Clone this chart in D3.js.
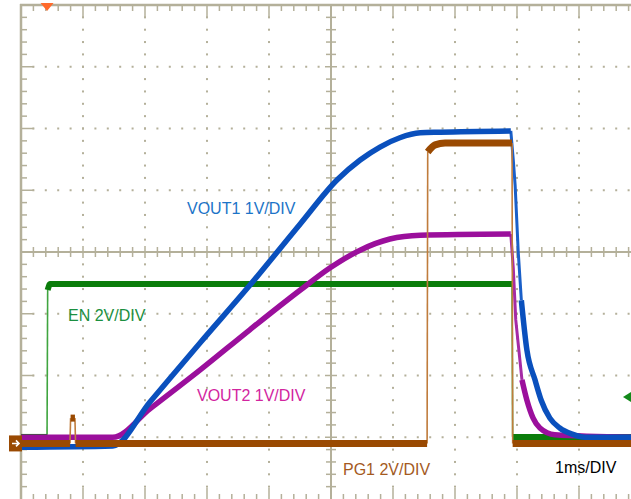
<!DOCTYPE html>
<html><head><meta charset="utf-8">
<script src="https://cdn.jsdelivr.net/npm/d3@7"></script>
<style>html,body{margin:0;padding:0;background:#fff;overflow:hidden}svg{display:block}</style>
</head><body>
<svg id="c" width="631" height="499"></svg>
<script>
// ---- data (time in ms relative to trigger, values in volts) ----
const enT   = [-0.42, 0.00, 0.01, 0.05, 7.50, 7.51, 9.42];
const enV   = [0.21, 0.21, 4.97, 5.16, 5.16, 0.21, 0.21];

const vout1T = [-0.42, 1.06, 1.66, 2.47, 3.27, 4.08, 4.68, 5.05, 5.37, 5.69, 6.02, 6.34, 7.48, 7.52, 7.55, 7.60, 7.65, 7.74, 7.87, 7.97, 8.11, 8.27, 8.47, 8.68, 9.42];
const vout1V = [-0.06, -0.04, 0.67, 1.63, 2.56, 3.55, 4.27, 4.59, 4.80, 4.95, 5.03, 5.04, 5.06, 4.59, 4.18, 3.10, 2.32, 1.51, 1.03, 0.70, 0.41, 0.25, 0.15, 0.10, 0.10];

const vout2T = [-0.42, 1.06, 1.66, 2.47, 3.27, 4.08, 4.56, 5.05, 5.53, 6.02, 7.48, 7.52, 7.56, 7.61, 7.66, 7.74, 7.84, 7.95, 8.19, 9.42];
const vout2V = [0.10, 0.10, 0.56, 1.19, 1.84, 2.48, 2.84, 3.13, 3.31, 3.37, 3.39, 2.84, 2.00, 1.51, 1.03, 0.70, 0.41, 0.25, 0.14, 0.10];

const pg1T = [-0.42, 0.37, 0.38, 0.45, 0.46, 6.13, 6.14, 6.26, 6.42, 7.50, 7.51, 9.42];
const pg1V = [0.00, 0.00, 0.82, 0.82, 0.00, 0.00, 9.44, 9.67, 9.73, 9.73, 0.00, 0.00];

const channelNames = ["EN 2V/DIV", "VOUT2 1V/DIV", "VOUT1 1V/DIV", "PG1 2V/DIV"];
const timebaseLabel = "1ms/DIV";

// ---- layout ----
const svg = d3.select("#c");
const grid = "#b4b09a";
const xDiv = d3.scaleLinear().domain([0, 10]).range([21, 641]);
const yDiv = d3.scaleLinear().domain([-4, 4]).range([499, 5]);
const xT = d3.scaleLinear().domain([-0.42, 9.58]).range([21, 641]);
const groundDiv = -3.1;

// dotted grid
const g = svg.append("g");
const dots = [];
for (let i = 1; i < 10; i++) {
  if (i === 5) continue;
  for (let k = 1; k < 40; k++) dots.push([xDiv(i), yDiv(-4 + k * 0.2)]);
}
for (let j = -3; j <= 3; j++) {
  if (j === 0) continue;
  for (let k = 1; k < 50; k++) dots.push([xDiv(k * 0.2), yDiv(j)]);
}
g.selectAll("rect.dot").data(dots).join("rect")
  .attr("x", d => d[0] - 1).attr("y", d => d[1] - 1)
  .attr("width", 2).attr("height", 2).attr("fill", grid);

// center axes
g.append("line").attr("x1", 21).attr("x2", 641).attr("y1", yDiv(0)).attr("y2", yDiv(0))
  .attr("stroke", grid).attr("stroke-width", 2);
g.append("line").attr("x1", xDiv(5)).attr("x2", xDiv(5)).attr("y1", 5).attr("y2", 499)
  .attr("stroke", grid).attr("stroke-width", 2);
// borders
g.append("line").attr("x1", 21).attr("x2", 21).attr("y1", 4).attr("y2", 499)
  .attr("stroke", grid).attr("stroke-width", 2.5);
g.append("line").attr("x1", 20).attr("x2", 641).attr("y1", 5).attr("y2", 5)
  .attr("stroke", grid).attr("stroke-width", 2.5);

const ticks = [];
for (let k = 1; k < 50; k++) {
  const x = xDiv(k * 0.2), major = k % 5 === 0;
  ticks.push([x, yDiv(0) - (major ? 6 : 5), x, yDiv(0) + (major ? 6 : 5)]);
  ticks.push([x, 5, x, major ? 17 : 11]);
  ticks.push([x, 499, x, major ? 488 : 494]);
}
for (let k = 1; k < 40; k++) {
  const y = yDiv(-4 + k * 0.2), major = k % 5 === 0;
  ticks.push([xDiv(5) - (major ? 6 : 5), y, xDiv(5) + (major ? 6 : 5), y]);
  ticks.push([21, y, major ? 34 : 27, y]);
}
g.selectAll("line.tk").data(ticks).join("line")
  .attr("x1", d => d[0]).attr("y1", d => d[1]).attr("x2", d => d[2]).attr("y2", d => d[3])
  .attr("stroke", grid).attr("stroke-width", 1.5);

// ---- traces ----
const channels = [
  {T: enT, V: enV, vdiv: 2, color: "#0b7d0b", edge: "#3fa53f", w: 6, ew: 1.6},
  {T: vout2T, V: vout2V, vdiv: 1, color: "#9b0f9c", edge: "#a52aa6", w: 5.5, ew: 3},
  {T: vout1T, V: vout1V, vdiv: 1, color: "#0a50bd", edge: "#1a5fc8", w: 5.5, ew: 3},
  {T: pg1T, V: pg1V, vdiv: 2, color: "#9a4a02", edge: "#c07c3c", w: 7, ew: 1.6}
];
const smooth = d3.line().curve(d3.curveMonotoneX);
const straight = d3.line().curve(d3.curveLinear);
channels.forEach(ch => {
  const pts = ch.T.map((t, i) => [xT(t), yDiv(groundDiv + ch.V[i] / ch.vdiv)]);
  const runs = [];
  let cur = null;
  for (let i = 0; i < pts.length - 1; i++) {
    const a = pts[i], b = pts[i + 1];
    const steep = Math.abs(b[1] - a[1]) / Math.max(Math.abs(b[0] - a[0]), 0.01) > 9;
    if (!cur || cur.steep !== steep) { cur = {steep, p: [a]}; runs.push(cur); }
    cur.p.push(b);
  }
  runs.filter(r => r.steep).forEach(r => {
    svg.append("path").attr("d", straight(r.p)).attr("fill", "none")
      .attr("stroke", ch.edge).attr("stroke-width", ch.ew).attr("stroke-linejoin", "round");
  });
  runs.filter(r => !r.steep).forEach(r => {
    svg.append("path").attr("d", smooth(r.p)).attr("fill", "none")
      .attr("stroke", ch.color).attr("stroke-width", ch.w)
      .attr("stroke-linejoin", "round").attr("stroke-linecap", "butt");
  });
});

// ---- markers ----
svg.append("path")
  .attr("d", `M${xT(0) - 6.5},3 L${xT(0) + 6.5},3 L${xT(0)},11 Z`).attr("fill", "#ff6a2c");
const gy = yDiv(groundDiv);
svg.append("rect").attr("x", 9).attr("y", gy - 8).attr("width", 13).attr("height", 16).attr("fill", "#9a4a02");
svg.append("path").attr("d", `M12,${gy} L19,${gy} M16,${gy - 3} L19,${gy} L16,${gy + 3}`)
  .attr("stroke", "#fff").attr("stroke-width", 1.6).attr("fill", "none");
const trigY = yDiv(groundDiv + 1.5 / 2);
svg.append("path").attr("d", `M623,${trigY} L631,${trigY - 5} L631,${trigY + 5} Z`).attr("fill", "#12891a");

// ---- labels ----
const labels = [
  {text: channelNames[0], x: 68, y: 321, color: "#1b8f40"},
  {text: channelNames[1], x: 197, y: 401, color: "#d2259f"},
  {text: channelNames[2], x: 187, y: 214, color: "#1c74c8"},
  {text: channelNames[3], x: 343, y: 475, color: "#a45a1e"},
  {text: timebaseLabel, x: 555, y: 473, color: "#000"}
];
svg.selectAll("text.lb").data(labels).join("text")
  .attr("x", d => d.x).attr("y", d => d.y).attr("fill", d => d.color)
  .attr("font-family", "'Liberation Sans', Arial, sans-serif").attr("font-size", 16)
  .text(d => d.text);
</script>
</body></html>
